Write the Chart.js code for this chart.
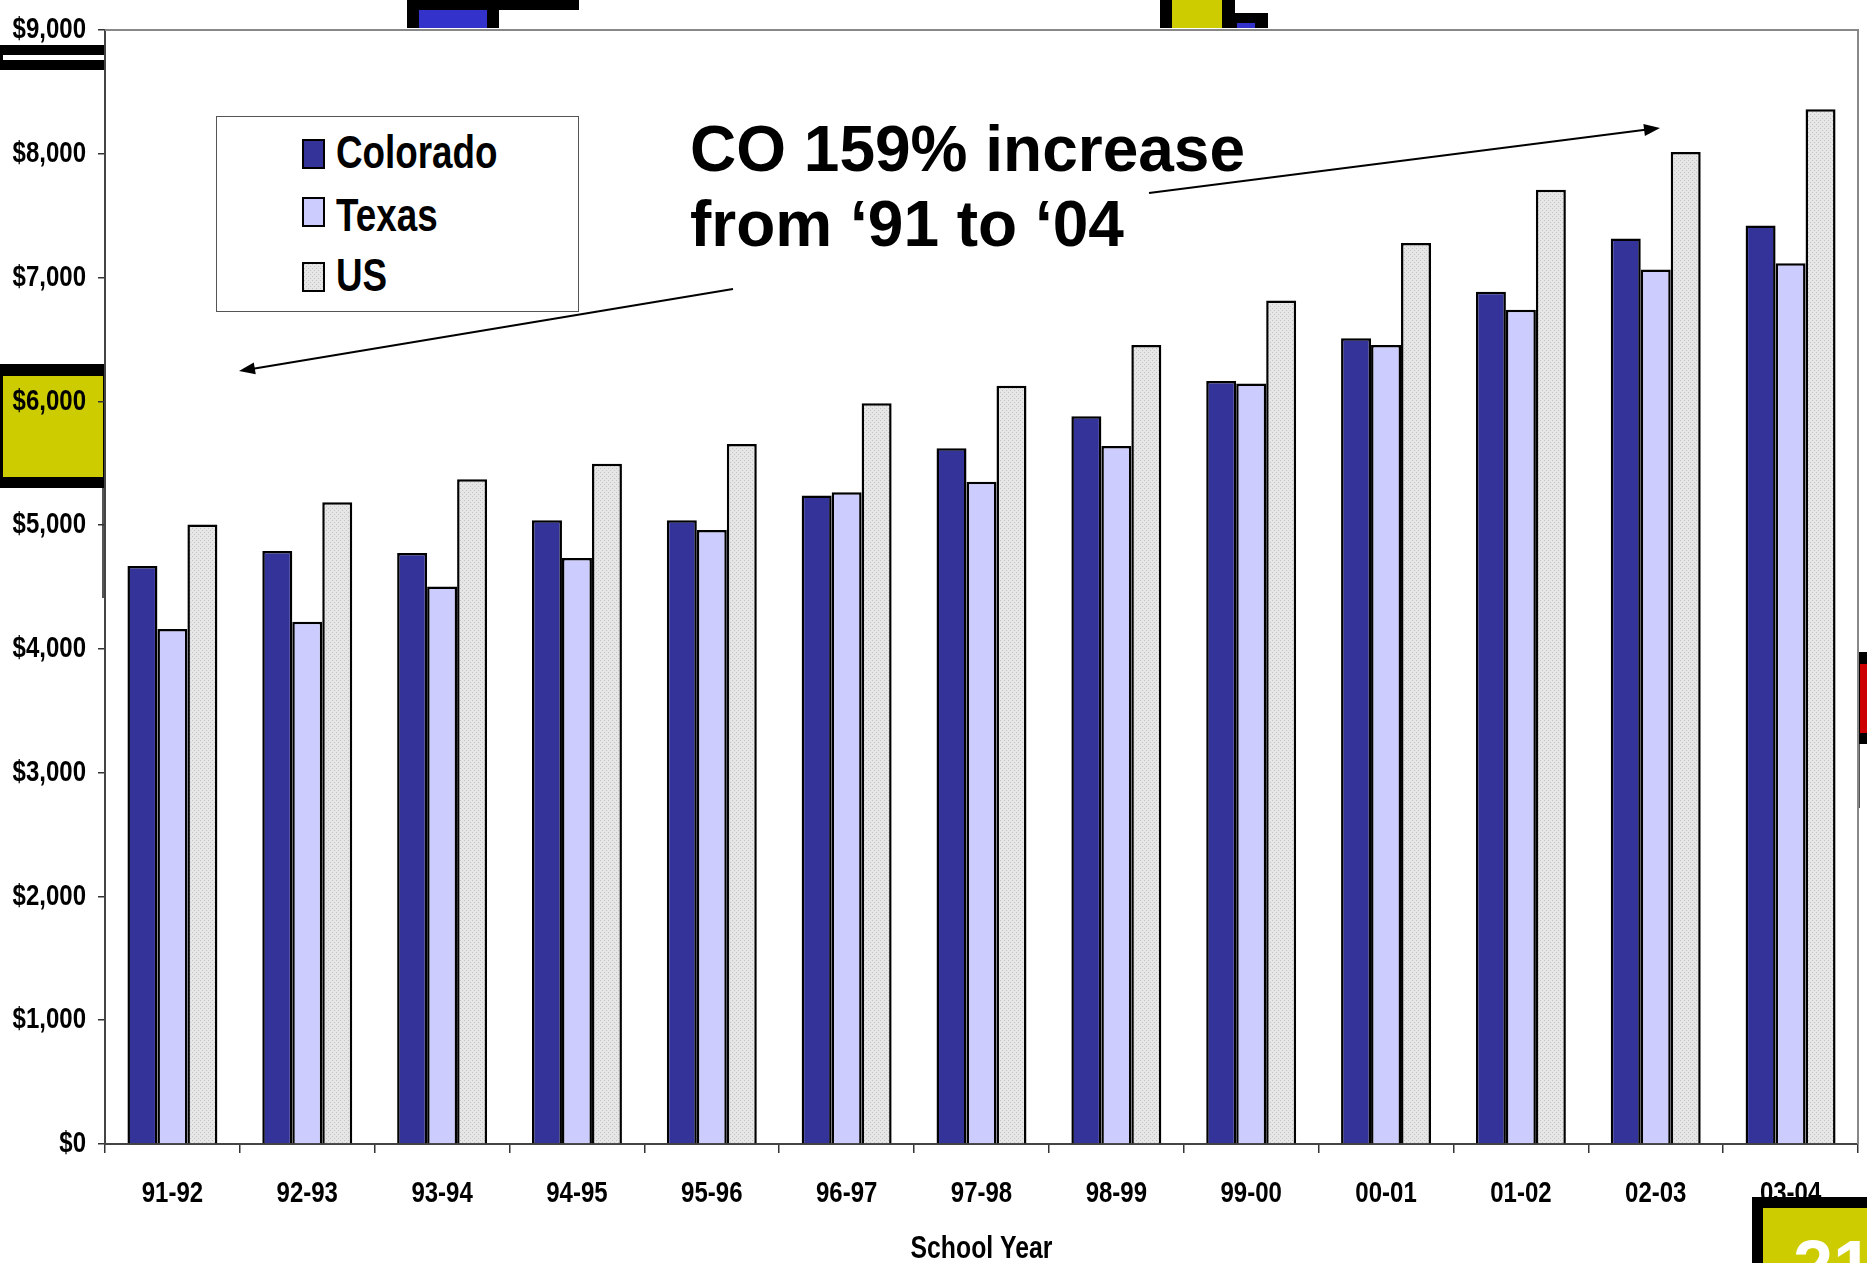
<!DOCTYPE html>
<html>
<head>
<meta charset="utf-8">
<script src="https://cdn.jsdelivr.net/npm/chart.js@4/dist/chart.umd.min.js"></script>
<style>
  html, body { margin: 0; padding: 0; background: #fff; overflow: hidden; }
  #wrap { position: relative; width: 1867px; height: 1263px; overflow: hidden; }
  #chart-box { position: absolute; left: 0; top: 0; width: 1867px; height: 1263px; z-index: 1; }
  .deco { position: absolute; z-index: 0; }
  .over { position: absolute; z-index: 2; }
  #legend { left: 216px; top: 116px; width: 361px; height: 194px; border: 1px solid #555; background: #fff;
    font-family: 'Liberation Sans', Arial, sans-serif; font-weight: bold; }
  .key { position: absolute; left: 85px; width: 19px; height: 26px; border: 2px solid #000; }
  /* narrow bold look: Arial Narrow is not installed, so squeeze Liberation Sans */
  .lbl { position: absolute; left: 119px; font-size: 46px; line-height: 46px; color: #000;
    transform: scaleX(0.8); transform-origin: left center; white-space: nowrap; }
  #note { left: 690px; top: 112px; font-family: 'Liberation Sans', Arial, sans-serif; font-weight: bold;
    font-size: 64px; line-height: 75px; color: #000; white-space: nowrap; }
</style>
</head>
<body>
<div id="wrap">
  <!-- slide decorations behind the chart -->
  <div class="deco" style="left:0;top:45px;width:105px;height:25px;background:#000;"></div>
  <div class="deco" style="left:3px;top:55px;width:102px;height:5px;background:#fff;"></div>
  <div class="deco" style="left:407px;top:0;width:172px;height:10px;background:#000;"></div>
  <div class="deco" style="left:407px;top:0;width:92px;height:28px;background:#000;"></div>
  <div class="deco" style="left:419px;top:10px;width:68px;height:18px;background:#3333cc;"></div>
  <div class="deco" style="left:1160px;top:0;width:75px;height:28px;background:#000;"></div>
  <div class="deco" style="left:1172px;top:0;width:50px;height:28px;background:#cccc00;"></div>
  <div class="deco" style="left:1235px;top:13px;width:33px;height:15px;background:#000;"></div>
  <div class="deco" style="left:1237px;top:23px;width:18px;height:5px;background:#3333cc;"></div>
  <div class="deco" style="left:0;top:364px;width:105px;height:124px;background:#000;"></div>
  <div class="deco" style="left:3px;top:376px;width:100px;height:101px;background:#cccc00;"></div>
  <div class="deco" style="left:102px;top:488px;width:2px;height:110px;background:#555;"></div>
  <div class="deco" style="left:1858px;top:652px;width:9px;height:92px;background:#000;"></div>
  <div class="deco" style="left:1860px;top:664px;width:7px;height:69px;background:#cc0000;"></div>
  <div class="deco" style="left:1858px;top:744px;width:2px;height:64px;background:#555;"></div>

  <div id="chart-box"><canvas id="chart"></canvas></div>

  <div id="legend" class="over">
    <div class="key" style="top:22px;background:#333399;"></div>
    <div class="lbl" style="top:12px;">Colorado</div>
    <div class="key" style="top:80px;background:#ccccff;"></div>
    <div class="lbl" style="top:75px;">Texas</div>
    <div class="key" id="us-key" style="top:145px;"></div>
    <div class="lbl" style="top:135px;">US</div>
  </div>

  <div id="note" class="over">CO 159% increase<br>from ‘91 to ‘04</div>

  <!-- slide number box, sits over the axis labels -->
  <div class="over" style="left:1752px;top:1197px;width:115px;height:66px;background:#000;"></div>
  <div class="over" style="left:1763px;top:1208px;width:104px;height:55px;background:#cccc00;overflow:hidden;">
    <div style="position:absolute;left:30px;top:22px;font-family:'Liberation Sans',Arial,sans-serif;font-weight:bold;font-size:72px;line-height:72px;color:#fff;">21</div>
  </div>
</div>

<script>
// ============ Data ============
const schoolYears = ['91-92', '92-93', '93-94', '94-95', '95-96', '96-97', '97-98',
  '98-99', '99-00', '00-01', '01-02', '02-03', '03-04'];
const coloradoSpend = [4670, 4790, 4775, 5040, 5040, 5240, 5620, 5880, 6165, 6510, 6885, 7315, 7420];
const texasSpend = [4160, 4220, 4505, 4735, 4960, 5265, 5350, 5640, 6145, 6455, 6740, 7065, 7115];
const usSpend = [5005, 5185, 5370, 5495, 5655, 5985, 6125, 6455, 6815, 7280, 7710, 8015, 8360];

const FONT = "'Liberation Sans', Arial, sans-serif";
const SQUEEZE = 0.8; // fake Arial Narrow for axis text

// dotted grey fill used by the US series
function makeDotPattern() {
  const c = document.createElement('canvas');
  c.width = 4; c.height = 4;
  const g = c.getContext('2d');
  g.fillStyle = '#e6e6e6';
  g.fillRect(0, 0, 4, 4);
  g.fillStyle = '#c4c4c4';
  g.fillRect(0, 0, 1, 1);
  g.fillRect(2, 2, 1, 1);
  return { pattern: g.createPattern(c, 'repeat'), url: c.toDataURL() };
}
const dots = makeDotPattern();
document.getElementById('us-key').style.background = `url(${dots.url})`;

function drawArrow(ctx, x1, y1, x2, y2) {
  const ang = Math.atan2(y2 - y1, x2 - x1);
  const len = 16, half = 6;
  ctx.save();
  ctx.strokeStyle = '#000';
  ctx.fillStyle = '#000';
  ctx.lineWidth = 2;
  ctx.beginPath();
  ctx.moveTo(x1, y1);
  ctx.lineTo(x2 - Math.cos(ang) * len * 0.8, y2 - Math.sin(ang) * len * 0.8);
  ctx.stroke();
  ctx.beginPath();
  ctx.moveTo(x2, y2);
  ctx.lineTo(x2 - Math.cos(ang) * len + Math.sin(ang) * half, y2 - Math.sin(ang) * len - Math.cos(ang) * half);
  ctx.lineTo(x2 - Math.cos(ang) * len - Math.sin(ang) * half, y2 - Math.sin(ang) * len + Math.cos(ang) * half);
  ctx.closePath();
  ctx.fill();
  ctx.restore();
}

// squeeze text while the scales draw (ticks + axis title), then restore
let squeezeText = false;
const origFillText = CanvasRenderingContext2D.prototype.fillText;
CanvasRenderingContext2D.prototype.fillText = function (text, x, y, maxWidth) {
  if (squeezeText) {
    const w = this.measureText(text).width * SQUEEZE;
    return origFillText.call(this, text, x, y, maxWidth === undefined ? w : Math.min(maxWidth, w));
  }
  return maxWidth === undefined ? origFillText.call(this, text, x, y) : origFillText.call(this, text, x, y, maxWidth);
};

const plotFrame = {
  id: 'plotFrame',
  beforeDraw(chart) {
    const { ctx, chartArea: a } = chart;
    ctx.save();
    ctx.fillStyle = '#fff';
    ctx.fillRect(a.left, a.top, a.right - a.left, a.bottom - a.top);
    ctx.restore();
    squeezeText = true;
  },
  beforeDatasetsDraw() {
    squeezeText = false;
  },
  afterDraw(chart) {
    squeezeText = false;
    const { ctx, chartArea: a } = chart;
    ctx.save();
    ctx.strokeStyle = '#888';
    ctx.lineWidth = 2;
    ctx.beginPath();
    ctx.moveTo(a.left, a.top);
    ctx.lineTo(a.right, a.top);
    ctx.lineTo(a.right, a.bottom);
    ctx.stroke();
    ctx.restore();
    // annotation arrows
    drawArrow(ctx, 1149, 193, 1660, 128);
    drawArrow(ctx, 733, 289, 239, 371);
  }
};

const ctx = document.getElementById('chart').getContext('2d');
new Chart(ctx, {
  type: 'bar',
  data: {
    labels: schoolYears,
    datasets: [
      { label: 'Colorado', data: coloradoSpend, backgroundColor: '#333399' },
      { label: 'Texas', data: texasSpend, backgroundColor: '#ccccff' },
      { label: 'US', data: usSpend, backgroundColor: dots.pattern },
    ].map(ds => Object.assign(ds, {
      borderColor: '#000',
      borderWidth: 2.5,
      categoryPercentage: 0.667,
      barPercentage: 1.0,
    })),
  },
  options: {
    responsive: true,
    maintainAspectRatio: false,
    animation: false,
    layout: { padding: { top: 28, right: 9, bottom: -2, left: 0 } },
    plugins: { legend: { display: false }, tooltip: { enabled: false } },
    scales: {
      x: {
        offset: true,
        afterFit: s => { s.height = 121; },
        grid: { offset: true, drawOnChartArea: false, tickLength: 9, color: '#333', lineWidth: 1.5 },
        border: { color: '#444', width: 2 },
        ticks: { color: '#000', padding: 23, maxRotation: 0, font: { family: FONT, size: 30, weight: 'bold' } },
        title: { display: true, text: 'School Year', color: '#000', padding: 0,
          font: { family: FONT, size: 31, weight: 'bold', lineHeight: 1 } },
      },
      y: {
        min: 0,
        max: 9000,
        afterFit: s => { s.width = 105; },
        grid: { drawOnChartArea: false, tickLength: 7, color: '#333', lineWidth: 1.5 },
        border: { color: '#444', width: 2 },
        ticks: {
          stepSize: 1000,
          color: '#000',
          padding: 12,
          font: { family: FONT, size: 30, weight: 'bold' },
          callback: v => '$' + v.toLocaleString('en-US'),
        },
      },
    },
  },
  plugins: [plotFrame],
});
</script>
</body>
</html>
